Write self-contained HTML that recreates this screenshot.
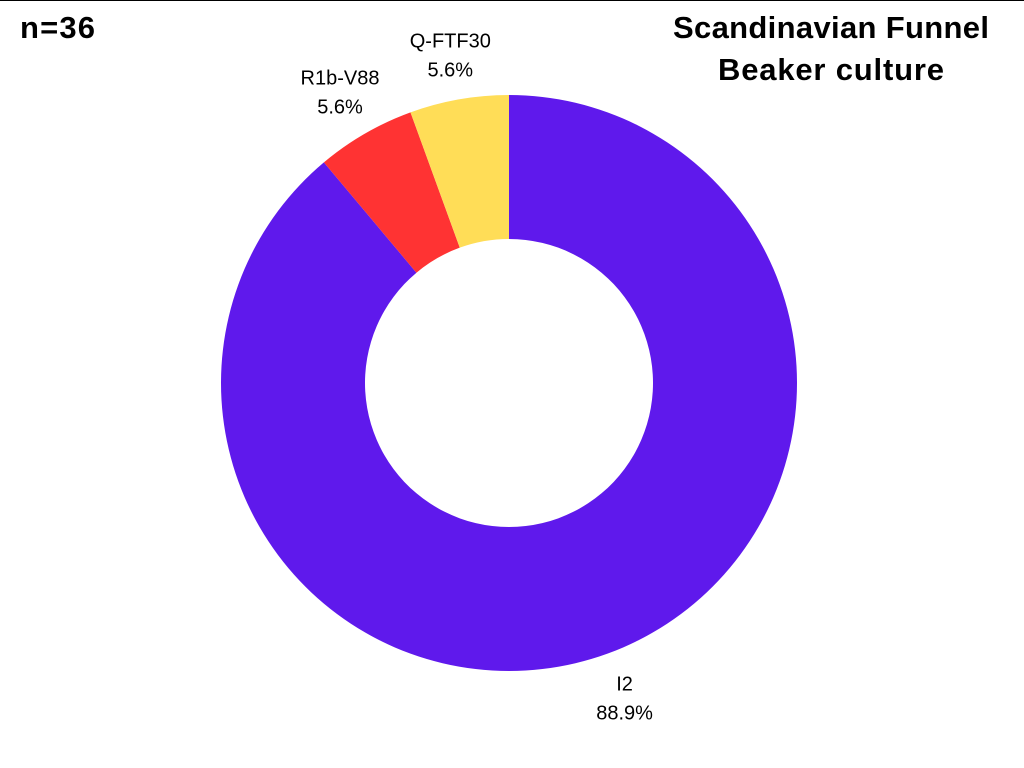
<!DOCTYPE html>
<html><head><meta charset="utf-8"><style>
html,body{margin:0;padding:0;background:#fff;width:1024px;height:768px;overflow:hidden}
svg{display:block;font-family:"Liberation Sans",sans-serif}
</style></head><body>
<svg id="chart" width="1024" height="768">
<line x1="0" y1="0.5" x2="1024" y2="0.5" stroke="#000" stroke-width="1"/>
<text x="20" y="38" font-size="31" font-weight="bold" textLength="75">n=36</text>
<text x="831" y="38" font-size="31" font-weight="bold" text-anchor="middle" textLength="316">Scandinavian Funnel</text>
<text x="831" y="80" font-size="31" font-weight="bold" text-anchor="middle" textLength="226">Beaker culture</text>
<g id="slices"></g><g id="labels"></g>
</svg>
<script>
const categories = ["I2", "R1b-V88", "Q-FTF30"];
const counts = [32, 2, 2];
const colors = ["#5f19ec", "#ff3333", "#ffdd57"];
const cx = 509, cy = 383, R = 288, r = 144;
const total = counts.reduce((a,b)=>a+b,0);
const ns = "http://www.w3.org/2000/svg";
const gS = document.getElementById("slices"), gL = document.getElementById("labels");
function pt(a, rad){ return [cx + rad*Math.sin(a), cy - rad*Math.cos(a)]; }
let start = 0;
counts.forEach((v,i)=>{
  const sweep = v/total*2*Math.PI, end = start + sweep;
  const [x1,y1]=pt(start,R),[x2,y2]=pt(end,R),[x3,y3]=pt(end,r),[x4,y4]=pt(start,r);
  const large = sweep>Math.PI?1:0;
  const p = document.createElementNS(ns,"path");
  p.setAttribute("d",`M${x1},${y1} A${R},${R} 0 ${large} 1 ${x2},${y2} L${x3},${y3} A${r},${r} 0 ${large} 0 ${x4},${y4} Z`);
  p.setAttribute("fill",colors[i]);
  
  
  gS.appendChild(p);
  const mid = (start+end)/2;
  const tx = pt(mid, R+50)[0];
  const ly = pt(mid, R+20)[1];
  const ty = Math.cos(mid) > 0 ? ly - 32 : ly + 18;
  const t = document.createElementNS(ns,"text");
  t.setAttribute("x", tx); t.setAttribute("y", ty);
  t.setAttribute("text-anchor","middle"); t.setAttribute("font-size","20");
  
  
  const s1 = document.createElementNS(ns,"tspan"); s1.setAttribute("x",tx); s1.textContent = categories[i];
  const s2 = document.createElementNS(ns,"tspan"); s2.setAttribute("x",tx); s2.setAttribute("dy","29");
  s2.textContent = (v/total*100).toFixed(1)+"%";
  t.appendChild(s1); t.appendChild(s2); gL.appendChild(t);
  start = end;
});
</script>
</body></html>
